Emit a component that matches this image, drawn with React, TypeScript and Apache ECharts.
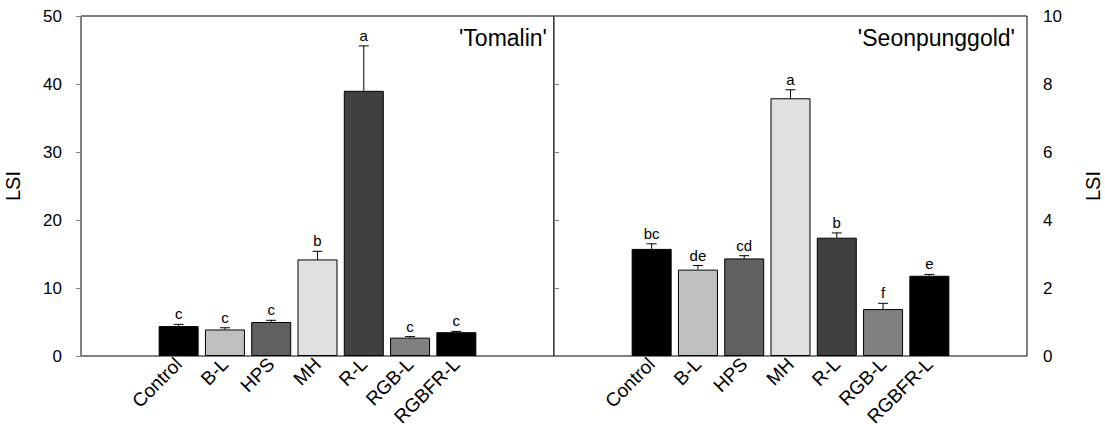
import React, { useEffect, useRef } from "react";
import * as echarts from "echarts";

const categories = ["Control", "B-L", "HPS", "MH", "R-L", "RGB-L", "RGBFR-L"];
const barColors = ["#000000", "#c0c0c0", "#606060", "#e0e0e0", "#404040", "#808080", "#000000"];

const tomalinValues = [4.4, 3.9, 5.0, 14.2, 39.0, 2.7, 3.5];
const tomalinErrors = [0.25, 0.25, 0.25, 1.2, 6.6, 0.15, 0.12];
const tomalinLetters = ["c", "c", "c", "b", "a", "c", "c"];

const seonValues = [3.15, 2.54, 2.87, 7.58, 3.48, 1.38, 2.36];
const seonErrors = [0.15, 0.12, 0.08, 0.25, 0.14, 0.17, 0.04];
const seonLetters = ["bc", "de", "cd", "a", "b", "f", "e"];

const panelTitles = ["'Tomalin'", "'Seonpunggold'"];
const yAxisName = "LSI";

const FONT = "'Liberation Sans', Arial, sans-serif";

function errorSeries(values: number[], errors: number[], letters: string[], axisIdx: number) {
  return {
    type: "custom",
    xAxisIndex: axisIdx,
    yAxisIndex: axisIdx,
    clip: false,
    z: 5,
    data: values.map((v, i) => [i, v, errors[i]]),
    renderItem: (params: any, api: any) => {
      const i = api.value(0);
      const v = api.value(1);
      const e = api.value(2);
      const base = api.coord([i, v]);
      const top = api.coord([i, v + e]);
      const s = { stroke: "#000", lineWidth: 1 };
      return {
        type: "group",
        children: [
          { type: "line", shape: { x1: base[0], y1: base[1], x2: top[0], y2: top[1] }, style: s },
          { type: "line", shape: { x1: top[0] - 5, y1: top[1], x2: top[0] + 5, y2: top[1] }, style: s },
          {
            type: "text",
            style: {
              text: letters[params.dataIndex],
              x: top[0],
              y: top[1] - 3,
              align: "center",
              verticalAlign: "bottom",
              fontSize: 15,
              fontFamily: FONT,
              fill: "#000",
            },
          },
        ],
      };
    },
  };
}

export default function App() {
  const ref = useRef<HTMLDivElement>(null);
  useEffect(() => {
    document.body.style.margin = "0";
    const chart = echarts.init(ref.current!, null, { renderer: "svg" });
    const outerTop = 16;
    const outerH = 340;
    const innerPad = 74.5;
    const panelW = 473;
    const lefts = [81, 554];

    const catAxis = (gi: number) => ({
      type: "category",
      gridIndex: gi,
      data: categories,
      axisLine: { show: false },
      axisTick: { show: false },
      axisLabel: {
        rotate: 45,
        fontSize: 19,
        color: "#000",
        fontFamily: FONT,
        margin: 5,
        interval: 0,
      },
    });
    const hiddenX = (gi: number) => ({ type: "value", gridIndex: gi, min: 0, max: 1, show: false });
    const hiddenY = (gi: number, max: number) => ({ type: "value", gridIndex: gi, min: 0, max, show: false });

    const visY = (gi: number, max: number, interval: number, pos: string) => ({
      type: "value",
      gridIndex: gi,
      min: 0,
      max,
      interval,
      position: pos,
      name: yAxisName,
      nameLocation: "middle",
      nameGap: pos === "left" ? 58 : 56,
      nameRotate: 90,
      nameTextStyle: { fontSize: 20, color: "#000", fontFamily: FONT },
      axisLine: { show: true, lineStyle: { color: "#808080", width: 1 } },
      axisTick: { show: true, inside: false, length: 5, lineStyle: { color: "#808080" } },
      axisLabel: { fontSize: 17, color: "#000", fontFamily: FONT, margin: pos === "left" ? 19 : 16 },
      splitLine: { show: false },
    });

    const barSeries = (values: number[], axisIdx: number) => ({
      type: "bar",
      xAxisIndex: axisIdx,
      yAxisIndex: axisIdx,
      barWidth: 40,
      data: values.map((v, i) => ({
        value: v,
        itemStyle: { color: barColors[i], borderColor: "#000", borderWidth: 1 },
      })),
    });

    chart.setOption({
      animation: false,
      grid: [
        { left: lefts[0], top: outerTop, width: panelW, height: outerH, show: true, borderColor: "#000", borderWidth: 1, backgroundColor: "transparent" },
        { left: lefts[1], top: outerTop, width: panelW, height: outerH, show: true, borderColor: "#000", borderWidth: 1, backgroundColor: "transparent" },
        { left: lefts[0] + innerPad, top: outerTop, width: panelW - 2 * innerPad, height: outerH },
        { left: lefts[1] + innerPad, top: outerTop, width: panelW - 2 * innerPad, height: outerH },
      ],
      xAxis: [hiddenX(0), hiddenX(1), catAxis(2), catAxis(3)],
      yAxis: [visY(0, 50, 10, "left"), visY(1, 10, 2, "right"), hiddenY(2, 50), hiddenY(3, 10)],
      series: [
        barSeries(tomalinValues, 2),
        barSeries(seonValues, 3),
        errorSeries(tomalinValues, tomalinErrors, tomalinLetters, 2),
        errorSeries(seonValues, seonErrors, seonLetters, 3),
      ],
      graphic: [
        {
          type: "text",
          right: 1105 - (lefts[0] + panelW) + 7,
          top: 26,
          style: { text: panelTitles[0], fontSize: 23, fontFamily: FONT, fill: "#000" },
        },
        {
          type: "text",
          right: 1105 - (lefts[1] + panelW) + 12,
          top: 26,
          style: { text: panelTitles[1], fontSize: 23, fontFamily: FONT, fill: "#000" },
        },
      ],
    });
    return () => chart.dispose();
  }, []);
  return <div ref={ref} style={{ width: 1105, height: 431 }} />;
}
